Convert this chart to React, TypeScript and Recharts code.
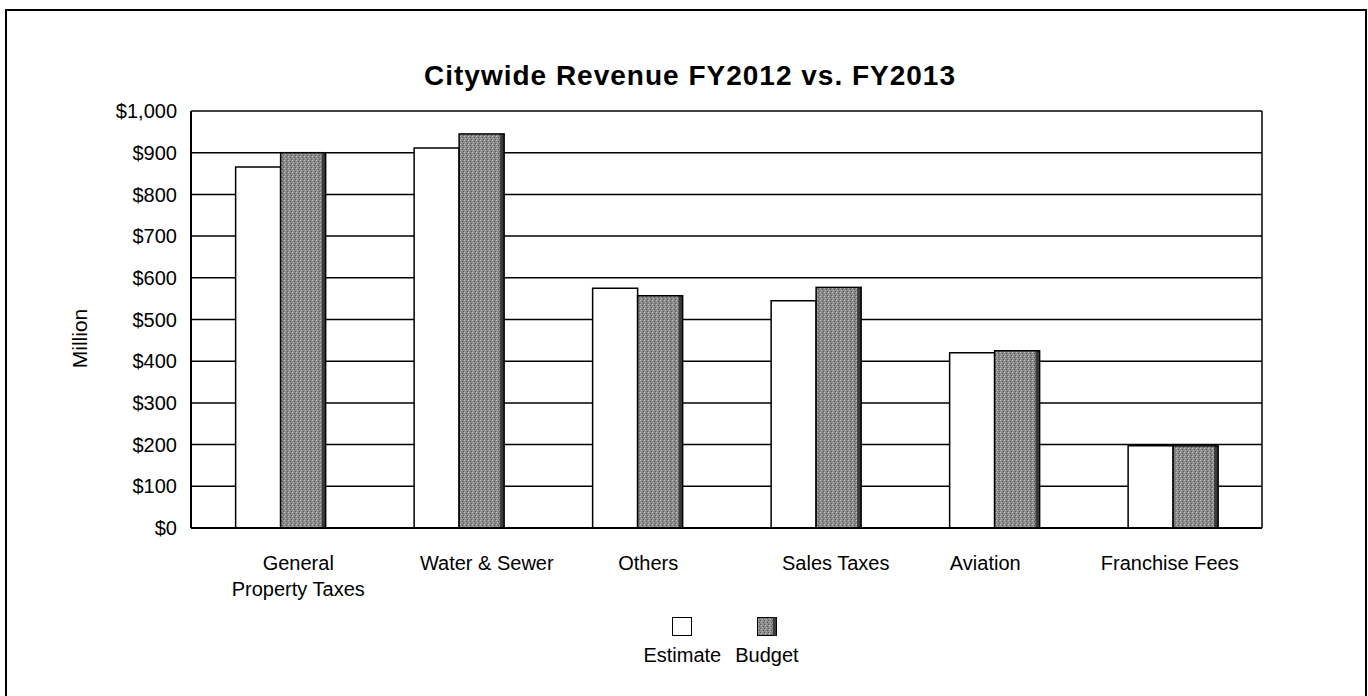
import { BarChart, Bar, XAxis, YAxis, CartesianGrid, Legend, Label } from 'recharts';

const categories = [
    'General\nProperty Taxes',
    'Water & Sewer',
    'Others',
    'Sales Taxes',
    'Aviation',
    'Franchise Fees',
];
const estimate = [866, 911, 575, 545, 420, 197];
const budget = [900, 945, 557, 577, 425, 197];
const yTicks = [0, 100, 200, 300, 400, 500, 600, 700, 800, 900, 1000];
const seriesOrder = ['estimate', 'budget'];

const data = categories.map((name, i) => ({
    name,
    estimate: estimate[i],
    budget: budget[i],
}));

const FONT = '"Liberation Sans", Arial, sans-serif';

// les libellés de l'original ne sont pas tout à fait centrés sous les barres
const labelNudge = [18, 28, 11, 20, -9, -3];

function CategoryTick({ x, y, payload, index }: any) {
    const lines = String(payload.value).split('\n');
    const cx = x + (labelNudge[index] ?? 0);
    return (
        <text x={cx} y={y} textAnchor="middle" fontSize={20} fill="#000" fontFamily={FONT}>
            {lines.map((l, i) => (
                <tspan key={i} x={cx} dy={i === 0 ? 34 : 26}>
                    {l}
                </tspan>
            ))}
        </text>
    );
}

// barre grise texturée, bord droit plus sombre
function BudgetShape({ x, y, width, height }: any) {
    if (!height) return null;
    return (
        <g>
            <rect x={x} y={y} width={width} height={height} fill="url(#grain)" />
            <rect x={x + width - 4} y={y} width={4} height={height} fill="#3a3a3a" />
            <rect x={x} y={y} width={width} height={height} fill="none" stroke="#000" strokeWidth={1.5} />
        </g>
    );
}

function LegendBox({ payload }: any) {
    const items = [...(payload || [])].sort(
        (a: any, b: any) => seriesOrder.indexOf(a.dataKey) - seriesOrder.indexOf(b.dataKey),
    );
    return (
        <div style={{ display: 'flex', justifyContent: 'center', gap: 14, fontFamily: FONT }}>
            {items.map((p: any) => (
                <div key={p.value} style={{ display: 'flex', flexDirection: 'column', alignItems: 'center' }}>
                    <svg width={20} height={19}>
                        {p.dataKey === 'budget' ? (
                            <>
                                <rect x={0.5} y={0.5} width={19} height={18} fill="url(#grain)" stroke="#000" />
                                <rect x={16} y={0.5} width={3} height={18} fill="#3a3a3a" />
                            </>
                        ) : (
                            <rect x={0.5} y={0.5} width={19} height={18} fill="#fff" stroke="#000" />
                        )}
                    </svg>
                    <span style={{ fontSize: 20, lineHeight: '24px', marginTop: 7 }}>{p.value}</span>
                </div>
            ))}
        </div>
    );
}

export default function App() {
    return (
        <div style={{ position: 'absolute', left: 0, top: 0, width: 1368, height: 696, overflow: 'hidden', background: '#fff' }}>
            <div
                style={{
                    position: 'absolute',
                    left: 5,
                    top: 9,
                    width: 1362,
                    height: 700,
                    boxSizing: 'border-box',
                    border: '2px solid #000',
                }}
            />
            <div
                style={{
                    position: 'absolute',
                    left: 0,
                    top: 61,
                    width: 1380,
                    textAlign: 'center',
                    fontFamily: FONT,
                    fontWeight: 'bold',
                    fontSize: 28,
                    letterSpacing: 1,
                    lineHeight: '30px',
                }}
            >
                Citywide Revenue FY2012 vs. FY2013
            </div>
            <div style={{ position: 'absolute', left: 0, top: 0 }}>
                <BarChart
                    width={1368}
                    height={696}
                    data={data}
                    margin={{ top: 111, right: 106, bottom: 98, left: 71 }}
                    barCategoryGap="25%"
                    barGap={0}
                >
                    <defs>
                        <pattern id="grain" width={4} height={4} patternUnits="userSpaceOnUse">
                            <rect width={4} height={4} fill="#8a8a8a" />
                            <rect x={0} y={0} width={1} height={1} fill="#c4c4c4" />
                            <rect x={2} y={1} width={1} height={1} fill="#555" />
                            <rect x={1} y={2} width={1} height={1} fill="#b0b0b0" />
                            <rect x={3} y={3} width={1} height={1} fill="#5e5e5e" />
                        </pattern>
                    </defs>
                    <CartesianGrid
                        stroke="#000"
                        strokeWidth={1.5}
                        verticalCoordinatesGenerator={({ offset }: any) => [offset.left + offset.width]}
                    />
                    <XAxis
                        dataKey="name"
                        interval={0}
                        tickLine={false}
                        axisLine={{ stroke: '#000', strokeWidth: 2 }}
                        tick={<CategoryTick />}
                        height={70}
                    />
                    <YAxis
                        width={120}
                        domain={[0, 1000]}
                        ticks={yTicks}
                        tickLine={false}
                        tickMargin={8}
                        axisLine={{ stroke: '#000', strokeWidth: 2 }}
                        tick={{ fill: '#000', fontSize: 20, fontFamily: FONT }}
                        tickFormatter={(v: number) => '$' + v.toLocaleString('en-US')}
                    >
                        <Label
                            content={({ viewBox }: any) => {
                                const cx = viewBox.x + 8;
                                const cy = viewBox.y + viewBox.height / 2 + 19;
                                return (
                                    <text
                                        x={cx}
                                        y={cy}
                                        transform={`rotate(-90 ${cx} ${cy})`}
                                        textAnchor="middle"
                                        dominantBaseline="central"
                                        fontSize={21}
                                        fontFamily={FONT}
                                        fill="#000"
                                    >
                                        Million
                                    </text>
                                );
                            }}
                        />
                    </YAxis>
                    <Legend
                        verticalAlign="middle"
                        align="center"
                        layout="horizontal"
                        content={<LegendBox />}
                        wrapperStyle={{ position: 'absolute', top: 617, left: 0, width: 1442 }}
                    />
                    <Bar
                        dataKey="estimate"
                        name="Estimate"
                        fill="#fff"
                        stroke="#000"
                        strokeWidth={1.5}
                        isAnimationActive={false}
                    />
                    <Bar
                        dataKey="budget"
                        name="Budget"
                        fill="#8a8a8a"
                        shape={<BudgetShape />}
                        isAnimationActive={false}
                    />
                </BarChart>
            </div>
        </div>
    );
}
